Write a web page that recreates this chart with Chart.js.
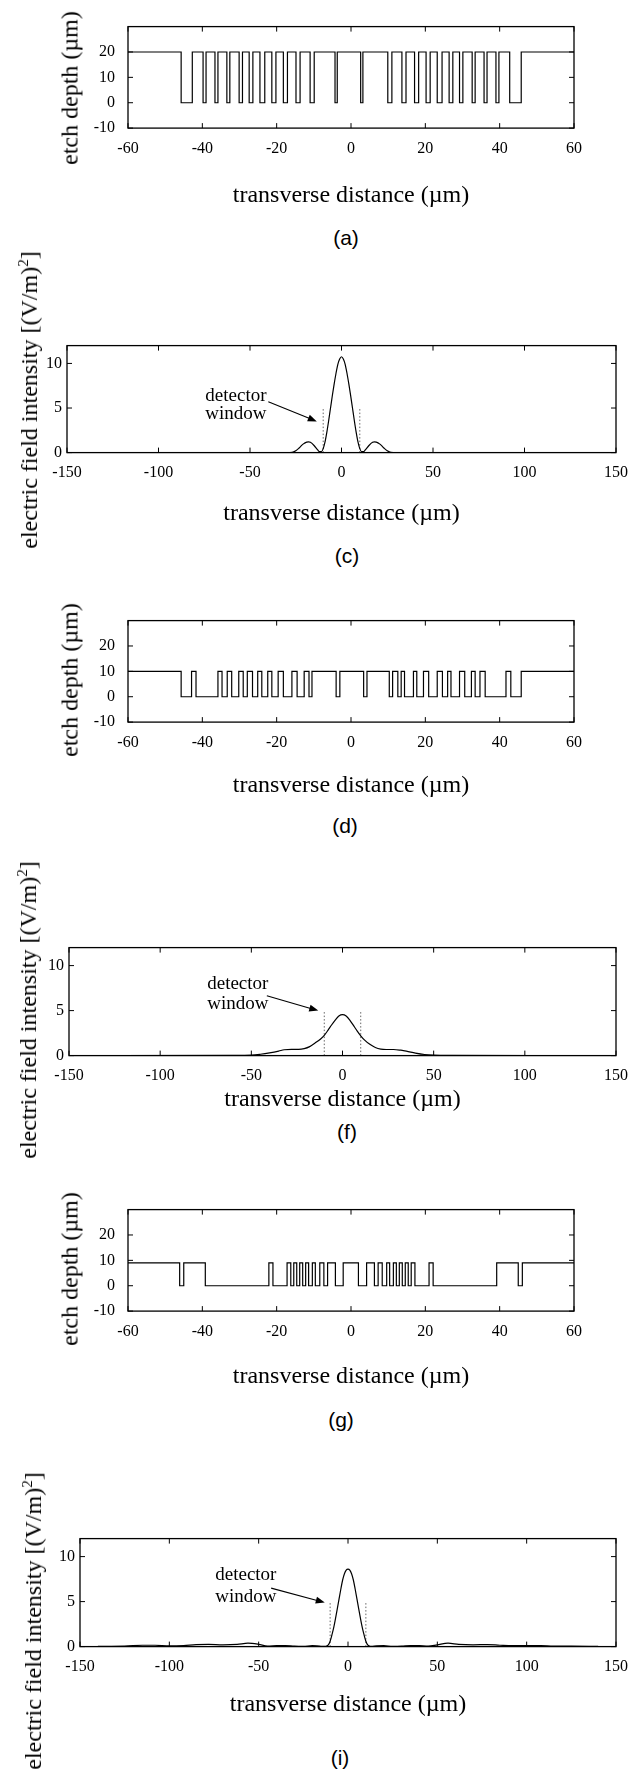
<!DOCTYPE html>
<html>
<head>
<meta charset="utf-8">
<script src="https://cdn.jsdelivr.net/npm/chart.js@4"></script>
<style>
  body { margin: 0; background: #fff; width: 639px; height: 1769px; position: relative; overflow: hidden; font-family: 'Liberation Serif', 'Times New Roman', serif; }
  canvas { position: absolute; left: 0; }
  .ylab { position: absolute; white-space: nowrap; font-size: 24px; color: #000; transform: translate(-50%, -50%) rotate(-90deg); }
  .ylab sup { font-size: 15px; }
  .letter { position: absolute; font-family: 'Liberation Sans', Arial, sans-serif; font-size: 21px; color: #000; transform: translate(-50%, -50%); }
</style>
</head>
<body>
<script>
// ---- tick labels ----
const etchXTicks  = [-60, -40, -20, 0, 20, 40, 60];
const etchYTicks  = [-10, 0, 10, 20];
const fieldXTicks = [-150, -100, -50, 0, 50, 100, 150];
const fieldYTicks = [0, 5, 10];

// ---- etch profiles: x positions (µm) where the depth toggles ----
const aHigh = 20, aLow = 0;
const aEdges = [-45.7, -42.7, -39.8, -39.0, -36.6, -35.8, -33.4, -32.6, -30.1, -29.2,
  -27.4, -26.4, -24.5, -23.2, -21.3, -20.2, -18.2, -17.1, -14.8, -13.7, -11.0, -9.9,
  -4.3, -3.7, 2.6, 3.2, 9.9, 11.0, 13.7, 14.8, 17.1, 18.2, 20.2, 21.3, 23.2, 24.5,
  26.4, 27.4, 29.2, 30.1, 32.6, 33.4, 35.8, 36.6, 39.0, 39.8, 42.7, 45.8];

const dHigh = 10, dLow = 0;
const dEdges = [-45.7, -42.9, -41.7, -35.8, -34.7, -33.3, -32.1, -30.2, -29.0, -27.9,
  -26.5, -25.1, -24.0, -22.4, -21.3, -19.6, -18.2, -15.9, -14.5, -12.6, -11.3, -10.5,
  -4.0, -3.0, 3.4, 4.3, 10.3, 11.2, 12.6, 13.5, 14.4, 16.8, 17.7, 19.5, 20.9, 23.2,
  24.6, 26.0, 26.9, 29.2, 30.6, 32.4, 33.4, 34.7, 36.1, 41.7, 43.0, 45.8];

const gHigh = 9, gLow = 0;
const gEdges = [-46.1, -45.0, -39.2, -22.1, -21.0, -17.2, -16.2, -15.4, -14.6, -13.8,
  -13.0, -12.2, -11.4, -10.4, -9.6, -8.4, -7.3, -6.3, -4.2, -2.1, 2.0, 4.2, 6.3, 7.3,
  8.4, 9.6, 10.4, 11.4, 12.2, 13.0, 13.8, 14.6, 15.4, 16.2, 17.2, 21.0, 22.1, 39.2,
  45.0, 46.1];

// ---- field intensity curves ----
const cX = [-140, -30, -27, -25, -23, -21, -19, -18, -17, -15, -13, -12, -11, -10, -9, -8, -7, -6, -5, -4,
  -3, -2, -1, 0, 1, 2, 3, 4, 5, 6, 7, 8, 9, 10, 11, 12, 13, 15, 17, 18, 19, 21, 23, 25, 27, 30, 140];
const cY = [0, 0, 0.02, 0.2, 0.55, 0.95, 1.18, 1.2, 1.15, 0.8, 0.3, 0.1, 0.1, 0.45, 1.2, 2.3, 3.6, 5.0, 6.4, 7.7,
  8.9, 9.9, 10.5, 10.75, 10.5, 9.9, 8.9, 7.7, 6.4, 5.0, 3.6, 2.3, 1.2, 0.45, 0.1, 0.1, 0.3, 0.8, 1.15, 1.2,
  1.18, 0.95, 0.55, 0.2, 0.02, 0, 0];

const fX = [-135, -60, -50, -45, -40, -35, -32, -28, -24, -21, -18, -15, -12, -10, -8, -6, -4, -2, 0, 2,
  4, 6, 8, 10, 12, 15, 18, 21, 24, 28, 32, 35, 40, 45, 50, 60, 135];
const fY = [0, 0.02, 0.05, 0.15, 0.3, 0.5, 0.65, 0.7, 0.7, 0.78, 1.0, 1.4, 1.85, 2.25, 2.8, 3.4, 3.95, 4.4, 4.55, 4.4,
  3.95, 3.35, 2.75, 2.2, 1.75, 1.25, 0.9, 0.72, 0.68, 0.68, 0.6, 0.5, 0.28, 0.12, 0.05, 0.02, 0];

const iX = [-140, -125, -115, -108, -100, -92, -85, -78, -70, -62, -56, -50, -45, -40, -35, -30, -25, -20, -16, -13,
  -12, -11, -10, -9, -8, -7, -6, -5, -4, -3, -2, -1, 0, 1, 2, 3, 4, 5, 6, 7,
  8, 9, 10, 11, 12, 13, 16, 20, 25, 30, 35, 40, 45, 50, 56, 62, 70, 78, 85, 92,
  100, 108, 115, 125, 140];
const iY = [0.03, 0.05, 0.15, 0.15, 0.08, 0.12, 0.22, 0.25, 0.2, 0.25, 0.38, 0.25, 0.05, 0.1, 0.12, 0.05, 0.03, 0.1, 0.05, 0.02,
  0.05, 0.2, 0.6, 1.3, 2.1, 3.1, 4.2, 5.3, 6.4, 7.4, 8.1, 8.5, 8.6, 8.5, 8.1, 7.4, 6.4, 5.3, 4.2, 3.1,
  2.1, 1.3, 0.6, 0.2, 0.05, 0.02, 0.08, 0.1, 0.03, 0.05, 0.12, 0.1, 0.05, 0.2, 0.38, 0.25, 0.2, 0.22, 0.15, 0.1,
  0.12, 0.12, 0.05, 0.05, 0.03];

// detector window edges and height
const windowX = [-10, 10];
const windowTop = 5;

// ---------------------------------------------
const serif = "'Liberation Serif', 'Times New Roman', serif";
Chart.defaults.color = '#000';
Chart.defaults.font.family = serif;

function stepPoints(edges, hi, lo, xmin, xmax) {
  let level = hi;
  const pts = [{ x: xmin, y: hi }];
  edges.forEach(e => { level = level === hi ? lo : hi; pts.push({ x: e, y: level }); });
  pts.push({ x: xmax, y: level });
  return pts;
}
function zip(xs, ys) { return xs.map((x, k) => ({ x: x, y: ys[k] })); }

// box with inward ticks on all four sides
const framePlugin = {
  id: 'frame',
  afterDraw(chart) {
    const { ctx, chartArea: a, scales: { x, y } } = chart;
    ctx.save();
    ctx.strokeStyle = '#000';
    ctx.lineWidth = 1.3;
    ctx.strokeRect(a.left, a.top, a.right - a.left, a.bottom - a.top);
    ctx.lineWidth = 1;
    ctx.beginPath();
    x.ticks.forEach(t => {
      const px = x.getPixelForValue(t.value);
      ctx.moveTo(px, a.top); ctx.lineTo(px, a.top + 5);
      ctx.moveTo(px, a.bottom); ctx.lineTo(px, a.bottom - 5);
    });
    y.ticks.forEach(t => {
      const py = y.getPixelForValue(t.value);
      ctx.moveTo(a.left, py); ctx.lineTo(a.left + 5, py);
      ctx.moveTo(a.right, py); ctx.lineTo(a.right - 5, py);
    });
    ctx.stroke();
    ctx.restore();
  }
};

// "detector window" note with arrow, placed in data coordinates
const notePlugin = {
  id: 'note',
  afterDatasetsDraw(chart, args, opts) {
    if (!opts || !opts.text) return;
    const { ctx, scales: { x, y } } = chart;
    ctx.save();
    ctx.fillStyle = '#000';
    ctx.font = '19px ' + serif;
    ctx.textBaseline = 'middle';
    ctx.textAlign = 'left';
    ctx.fillText('detector', x.getPixelForValue(opts.text[0]), y.getPixelForValue(opts.text[1]));
    ctx.fillText('window', x.getPixelForValue(opts.text[0]), y.getPixelForValue(opts.text[2]));
    const x0 = x.getPixelForValue(opts.arrow[0]), y0 = y.getPixelForValue(opts.arrow[1]);
    const x1 = x.getPixelForValue(opts.arrow[2]), y1 = y.getPixelForValue(opts.arrow[3]);
    const ang = Math.atan2(y1 - y0, x1 - x0);
    ctx.strokeStyle = '#000';
    ctx.lineWidth = 1.1;
    ctx.beginPath(); ctx.moveTo(x0, y0); ctx.lineTo(x1 - 7 * Math.cos(ang), y1 - 7 * Math.sin(ang)); ctx.stroke();
    ctx.beginPath();
    ctx.moveTo(x1, y1);
    ctx.lineTo(x1 - 9 * Math.cos(ang) + 3.5 * Math.sin(ang), y1 - 9 * Math.sin(ang) - 3.5 * Math.cos(ang));
    ctx.lineTo(x1 - 9 * Math.cos(ang) - 3.5 * Math.sin(ang), y1 - 9 * Math.sin(ang) + 3.5 * Math.cos(ang));
    ctx.closePath(); ctx.fill();
    ctx.restore();
  }
};

function addText(cls, html, cx, cy) {
  const d = document.createElement('div');
  d.className = cls;
  d.innerHTML = html;
  d.style.left = cx + 'px';
  d.style.top = cy + 'px';
  document.body.appendChild(d);
}

function panel(p) {
  const top = p.T - 10;
  const bottom = p.xlab + 14.4;
  const cv = document.createElement('canvas');
  cv.width = 639;
  cv.height = Math.round(bottom - top);
  cv.style.top = top + 'px';
  document.body.appendChild(cv);

  new Chart(cv, {
    type: 'line',
    data: { datasets: p.datasets },
    options: {
      responsive: false,
      animation: false,
      devicePixelRatio: 1,
      layout: { padding: { top: 10, right: 639 - p.R, left: 0, bottom: 0 } },
      plugins: { legend: { display: false }, tooltip: { enabled: false }, note: p.note || {} },
      elements: { point: { radius: 0 } },
      scales: {
        x: {
          type: 'linear', min: p.xTicks[0], max: p.xTicks[p.xTicks.length - 1],
          afterBuildTicks: s => { s.ticks = p.xTicks.map(v => ({ value: v })); },
          afterFit: s => { s.height = bottom - p.B; },
          grid: { display: false, drawTicks: false }, border: { display: false },
          ticks: { padding: 11, maxRotation: 0, autoSkip: false, font: { size: 16 } },
          title: { display: true, text: 'transverse distance (µm)', font: { size: 24 }, padding: 0 }
        },
        y: {
          type: 'linear', min: p.yMin, max: p.yMax,
          afterBuildTicks: s => { s.ticks = p.yTicks.map(v => ({ value: v })); },
          afterFit: s => { s.width = p.L; },
          grid: { display: false, drawTicks: false }, border: { display: false },
          ticks: { padding: p.yPad, font: { size: 16 } }
        }
      }
    },
    plugins: [framePlugin, notePlugin]
  });

  addText('ylab', p.ylabel, p.ylabPos[0], p.ylabPos[1]);
  addText('letter', p.letter, p.letterPos[0], p.letterPos[1]);
}

const etchLabel = 'etch depth (µm)';
const fieldLabel = 'electric field intensity [(V/m)<sup>2</sup>]';

function etchSet(edges, hi, lo) {
  return [{ data: stepPoints(edges, hi, lo, -60, 60), stepped: true, borderColor: '#000', borderWidth: 1.2 }];
}
function fieldSet(xs, ys) {
  return [
    { data: zip(xs, ys), borderColor: '#000', borderWidth: 1.2, cubicInterpolationMode: 'monotone' },
    { data: [{ x: windowX[0], y: 0 }, { x: windowX[0], y: windowTop }], borderColor: '#666', borderWidth: 1, borderDash: [1.5, 2] },
    { data: [{ x: windowX[1], y: 0 }, { x: windowX[1], y: windowTop }], borderColor: '#666', borderWidth: 1, borderDash: [1.5, 2] }
  ];
}

panel({ L: 128, R: 574, T: 14, B: 128.5, xlab: 196, xTicks: etchXTicks, yTicks: etchYTicks, yMin: -10, yMax: 30, yPad: 13,
  datasets: etchSet(aEdges, aHigh, aLow), ylabel: etchLabel, ylabPos: [70, 88], letter: '(a)', letterPos: [346, 238] });

panel({ L: 67, R: 616, T: 341, B: 453, xlab: 514, xTicks: fieldXTicks, yTicks: fieldYTicks, yMin: 0, yMax: 12, yPad: 5,
  datasets: fieldSet(cX, cY), note: { text: [-74.4, 6.4, 4.3], arrow: [-40, 5.7, -13.5, 3.5] },
  ylabel: fieldLabel, ylabPos: [29, 400], letter: '(c)', letterPos: [347, 556] });

panel({ L: 128, R: 574, T: 608, B: 722.5, xlab: 786, xTicks: etchXTicks, yTicks: etchYTicks, yMin: -10, yMax: 30, yPad: 13,
  datasets: etchSet(dEdges, dHigh, dLow), ylabel: etchLabel, ylabPos: [70, 680], letter: '(d)', letterPos: [345, 826] });

panel({ L: 69, R: 617, T: 943, B: 1056, xlab: 1100, xTicks: fieldXTicks, yTicks: fieldYTicks, yMin: 0, yMax: 12, yPad: 5,
  datasets: fieldSet(fX, fY), note: { text: [-74.2, 7.96, 5.68], arrow: [-41.5, 6.65, -13.3, 5.0] },
  ylabel: fieldLabel, ylabPos: [28, 1010], letter: '(f)', letterPos: [347, 1132] });

panel({ L: 128, R: 574, T: 1197, B: 1311.5, xlab: 1377, xTicks: etchXTicks, yTicks: etchYTicks, yMin: -10, yMax: 30, yPad: 13,
  datasets: etchSet(gEdges, gHigh, gLow), ylabel: etchLabel, ylabPos: [70, 1269], letter: '(g)', letterPos: [341, 1420] });

panel({ L: 80, R: 627, T: 1534, B: 1647, xlab: 1705, xTicks: fieldXTicks, yTicks: fieldYTicks, yMin: 0, yMax: 12, yPad: 5,
  datasets: fieldSet(iX, iY), note: { text: [-74.3, 7.9, 5.54], arrow: [-43, 6.5, -13, 4.9] },
  ylabel: fieldLabel, ylabPos: [33, 1621], letter: '(i)', letterPos: [340, 1758] });
</script>
</body>
</html>
